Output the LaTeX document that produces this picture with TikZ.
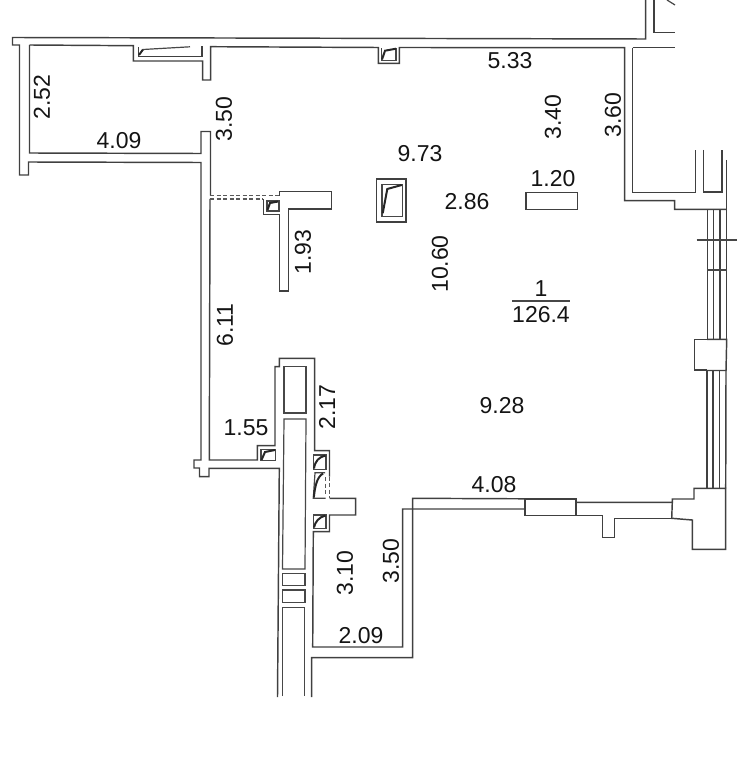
\documentclass[tikz,border=0pt]{standalone}
\usepackage{fontspec}
\setmainfont{Liberation Sans}
\tikzset{
  wall/.style={draw=black!75,line width=1.45pt,line join=miter},
  thin wall/.style={draw=black!72,line width=1.2pt},
  gap/.style={draw=black!65,line width=1.1pt,dash pattern=on 4pt off 2.5pt},
  flue/.style={draw=black!85,line width=2pt},
  dim/.style={font=\fontsize{23}{25}\selectfont,text=black!92,inner sep=0pt},
  dimv/.style={dim,rotate=90}
}
\begin{document}
\begin{tikzpicture}[x=1pt,y=-1pt]
\useasboundingbox (0,0) rectangle (737,767);
% --- outer shell, top and left
\draw[wall] (645.7,0) -- (645.7,39) -- (12.5,37.5) -- (12.5,45) -- (19.5,45) -- (19.5,175) -- (28.5,175) -- (28.5,162) -- (201,162.5) -- (201,460) -- (194,460) -- (194,468) -- (199.5,468) -- (199.5,476.7) -- (209,476.7) -- (209,468.3) -- (279.3,468.3) -- (277.5,697);
% --- inner outline of the left bay and top wall
\draw[wall] (29.5,45) -- (133.3,45.7) -- (133.3,61) -- (202.7,61) -- (202.7,80) -- (210.7,80) -- (210.7,46.7) -- (378.3,47.5) -- (378.3,63.3) -- (399.3,63.3) -- (399.3,47.5) -- (624.7,47.7) -- (624.7,200.7) -- (674.7,200.7) -- (674.7,209.3) -- (726.7,209.3);
\draw[wall] (29.5,45) -- (29.5,153) -- (201,153.5) -- (201,131.5) -- (210.5,131.5) -- (210.5,195.7);
% --- wall run from the dashed opening down to the shaft and room bottom
\draw[wall] (210,199) -- (209.3,460) -- (257.3,460) -- (257.3,445.7) -- (275,445.7) -- (275,366.7) -- (279.3,366.7) -- (279.3,358.3) -- (314.7,358.3) -- (314.7,450.7) -- (329.5,450.7) -- (329.5,476.5);
\draw[wall] (329.5,498.3) -- (355.7,498.3) -- (355.7,515) -- (329.5,515) -- (329.5,531.7) -- (313.3,531.7) -- (312.7,647) -- (402.7,647) -- (402.7,509) -- (525,509);
\draw[wall] (311.7,697) -- (311.7,657.7) -- (412.7,657.7) -- (412.7,498.3) -- (525,498.8);
% --- T-shaped partition
\draw[gap] (210,195.7) -- (279.3,195.7);
\draw[gap] (210,199) -- (263.3,199);
\draw[wall] (279.3,195.7) -- (279.3,191.7) -- (331.7,191.7) -- (331.7,209) -- (288.7,209) -- (288.7,291) -- (279.3,291) -- (279.3,214.3) -- (263.3,214.3) -- (263.3,199);
% --- shaft
\draw[thin wall] (284,366.5) rectangle (306,413);
\draw[thin wall] (282.5,569) -- (284,419) -- (306,419) -- (305,569) -- cycle;
\draw[thin wall] (282.5,573.5) rectangle (305,585.7);
\draw[thin wall] (282.5,590) rectangle (305,602.7);
\draw[thin wall] (282.3,696) -- (282.3,607.3) -- (304.5,607.3) -- (304.5,696);
% --- duct in the top wall
\draw[wall] (138.5,47) -- (138.5,56.5) -- (202,56.5) -- (202,46.5);
\draw[flue] (139,55) -- (143,49.5);
\draw[thin wall] (143,49.5) -- (190,46.8);
% --- duct at the top column
\draw[thin wall] (381.7,48.5) -- (381.7,60.5) -- (396,60.5) -- (396,48.5);
\draw[flue] (382,59.5) -- (385,50.7) -- (396,48.7);
% --- free-standing column
\draw[wall] (376.7,179) rectangle (406,222);
\draw[thin wall] (382,184.7) rectangle (402.7,216.5);
\draw[flue] (382.7,213.3) -- (387.3,189) -- (401.7,185);
% --- small duct by the T partition
\draw[thin wall] (267,201) rectangle (279,211);
\draw[flue] (267.5,210) -- (270,203) -- (278,201.5);
% --- duct at left of the shaft
\draw[thin wall] (261,449.5) rectangle (275.5,460.5);
\draw[flue] (261.5,460) -- (265,452) -- (275,450);
% --- ducts at right of the shaft
\draw[thin wall] (313.3,455) rectangle (326,469.3);
\draw[flue] (314,468.5) .. controls (315,461) and (319,457) .. (325.5,455.5);
\draw[thin wall] (325,472.8) -- (315,472.8) -- (313.3,498.3) -- (325.5,498.3);
\draw[flue] (313.8,497.5) .. controls (315,486) and (317,477) .. (323,473.5);
\draw[gap] (325.3,477) -- (325.3,495);
\draw[gap] (329.5,476.5) -- (329.5,498.3);
\draw[thin wall] (313.3,515) rectangle (326,528.3);
\draw[flue] (314,527.5) .. controls (315,522) and (319,517) .. (325.5,515.5);
% --- loose rectangle near 1.20
\draw[wall] (526,192.5) rectangle (577.5,209.5);
% --- upper right corner
\draw[wall] (654,0) -- (654,32.7) -- (674.7,32.7);
\draw[thin wall] (667,0) -- (675,5);
\draw[wall] (632.7,47.7) -- (674.7,47.7);
\draw[wall] (632.7,47.7) -- (632.7,192.7) -- (695.7,192.7) -- (695.7,150);
\draw[wall] (703.7,150) -- (703.7,192) -- (722,192) -- (722,150);
\draw[wall] (726.7,160) -- (726.7,209.3);
% --- window bands
\draw[wall] (707.3,209.3) -- (707.3,339.3);
\draw[wall] (713.3,209.3) -- (713.3,339.3);
\draw[wall] (720,209.3) -- (720,339.3);
\draw[wall] (726.7,209.3) -- (726.7,339.3);
\draw[wall] (707,339.3) -- (694.7,339.3) -- (694.7,370) -- (707,370);
\draw[wall] (707,339.3) -- (726.7,339.3) -- (726,370.5) -- (707,370.5);
\draw[wall] (707,370) -- (707,488.3);
\draw[wall] (713,370) -- (713,488.3);
\draw[wall] (719.5,370) -- (719.5,488.3);
\draw[wall] (726,370) -- (725.7,488.3);
\draw[thin wall] (696.5,240) -- (737,240);
\draw[thin wall] (707.3,270) -- (726.7,270);
% --- lower right wall
\draw[wall] (525,499) rectangle (576,515.7);
\draw[wall] (576,502.3) -- (672.3,502.3) -- (672.3,499) -- (694,499) -- (694,488.3) -- (725.7,488.3) -- (725.7,549.3) -- (692.3,549.3) -- (692.3,520) -- (671.7,518.3) -- (672.3,502.3);
\draw[wall] (576,515.7) -- (602.3,515.7) -- (602.3,537.3) -- (614.3,537.3) -- (614.3,518.3) -- (671.7,518.3);
% --- dimensions
\node[dim]  (d533)  at (510,61)  {5.33};
\node[dimv] (d252)  at (42,97)   {2.52};
\node[dim]  (d409)  at (119,141) {4.09};
\node[dimv] (d350a) at (224,119) {3.50};
\node[dim]  (d973)  at (420,154) {9.73};
\node[dimv] (d340)  at (553,117) {3.40};
\node[dimv] (d360)  at (613,115) {3.60};
\node[dim]  (d120)  at (553,179) {1.20};
\node[dim]  (d286)  at (467,202) {2.86};
\node[dimv] (d193)  at (303,252) {1.93};
\node[dimv] (d1060) at (440,264) {10.60};
\node[dim]  (rnum)  at (541,289) {1};
\node[dim]  (rarea) at (541,315) {126.4};
\draw[thin wall] (rarea.north west |- 0,301) -- (rarea.north east |- 0,301);
\node[dimv] (d611)  at (225,325) {6.11};
\node[dim]  (d928)  at (502,406) {9.28};
\node[dimv] (d217)  at (327,407) {2.17};
\node[dim]  (d155)  at (246,428) {1.55};
\node[dim]  (d408)  at (494,485) {4.08};
\node[dimv] (d310)  at (345,573) {3.10};
\node[dimv] (d350b) at (391,561) {3.50};
\node[dim]  (d209)  at (361,636) {2.09};
\end{tikzpicture}
\end{document}
